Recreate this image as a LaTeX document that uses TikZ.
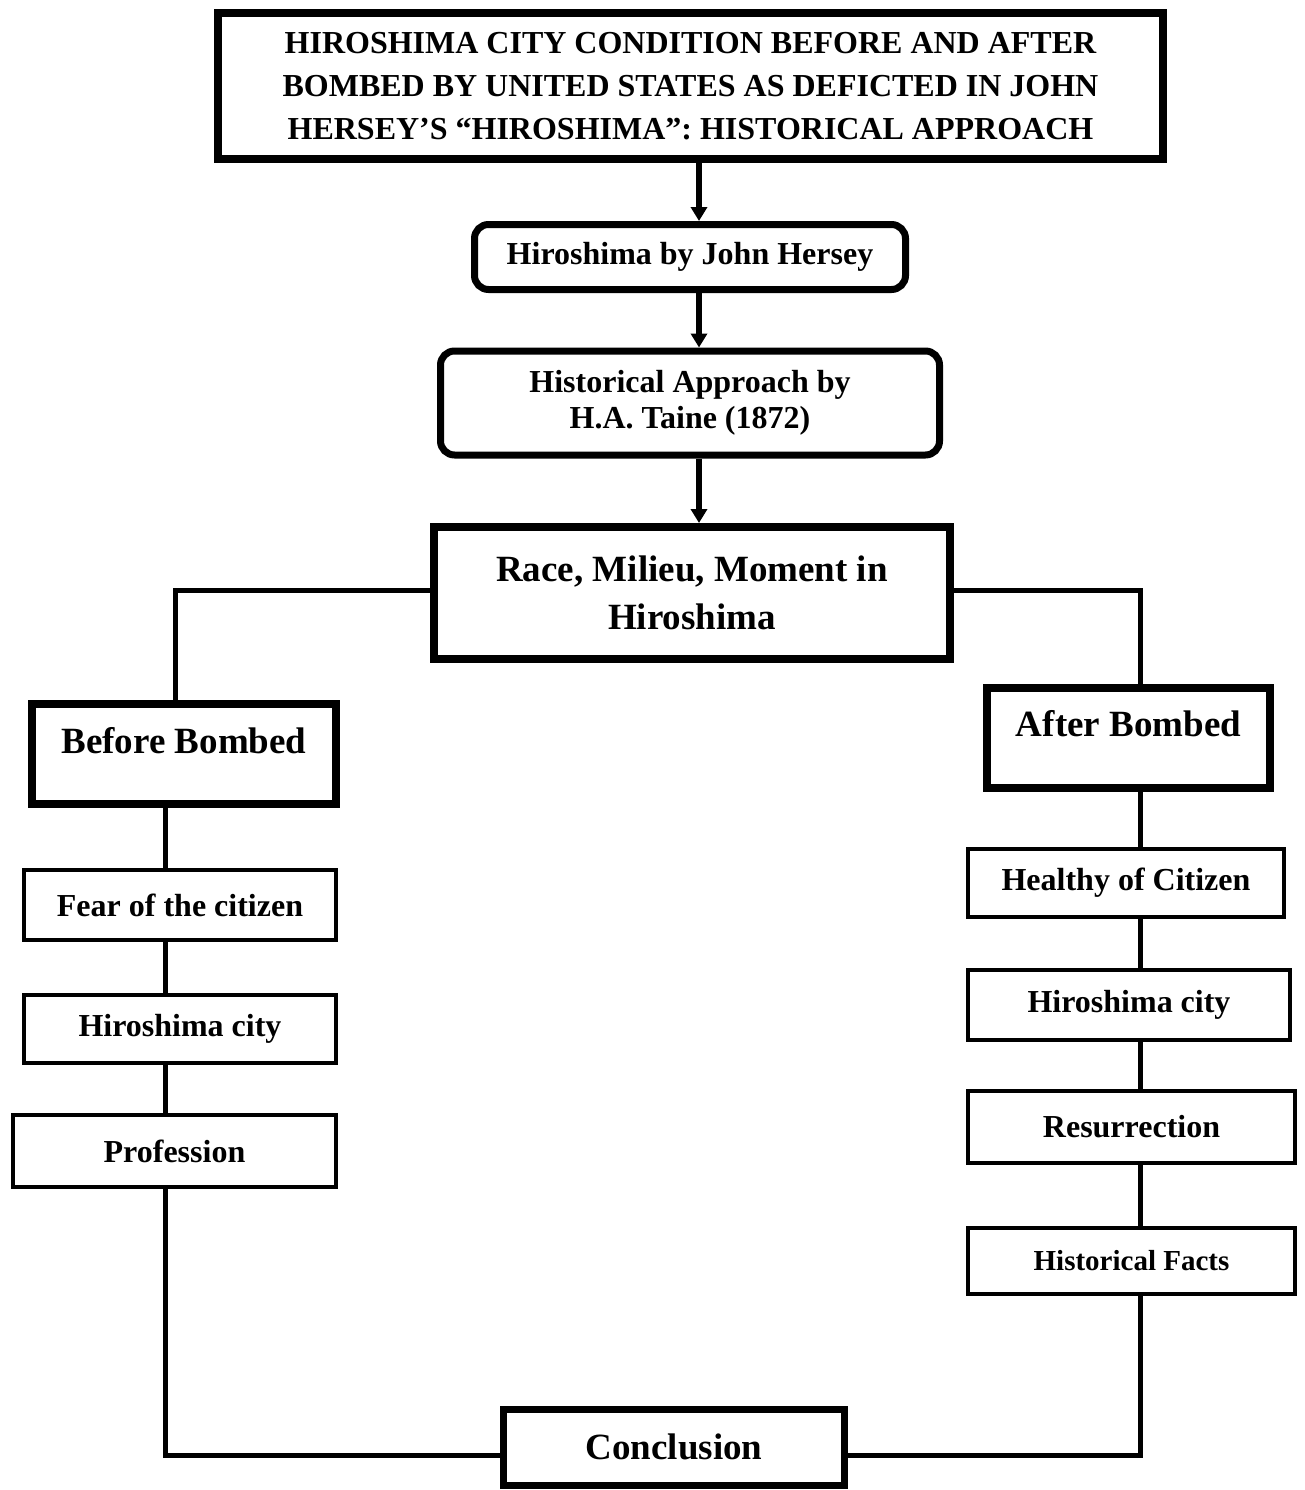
\documentclass[tikz,border=0pt]{standalone}
\usepackage{fontspec}
\setmainfont{Liberation Serif}
\usetikzlibrary{arrows.meta,calc}
\begin{document}
\begin{tikzpicture}[x=1pt,y=-1pt,
  fnt/.style={font=\bfseries\fontsize{#1}{#1}\selectfont},
  base/.style={draw=black,align=center,inner sep=0pt,text=black},
  thickbox/.style={base,line width=8pt},
  roundbox/.style={base,line width=7pt,rounded corners=14pt},
  smallbox/.style={base,line width=4pt},
  conn/.style={line width=5pt},
  arr/.style={line width=6pt,-{Triangle[width=16pt,length=14pt]}}
]
\useasboundingbox (0,0) rectangle (1304,1490);
\fill[white] (0,0) rectangle (1304,1490);

% top chain
\node[thickbox,minimum width=945pt,minimum height=146pt,
      font=\bfseries\fontsize{32}{43}\selectfont] (title) at (690.5,86)
  {HIROSHIMA CITY CONDITION BEFORE AND AFTER\\BOMBED BY UNITED STATES AS DEFICTED IN JOHN\\HERSEY'S \textquotedblleft HIROSHIMA\textquotedblright: HISTORICAL APPROACH};
\node[roundbox,minimum width=431pt,minimum height=65pt,fnt=32] (hjh) at (690,257)
  {Hiroshima by John Hersey};
\node[roundbox,minimum width=499pt,minimum height=104pt,
      font=\bfseries\fontsize{32}{36}\selectfont] (taine) at (690,403)
  {Historical Approach by\\H.A. Taine (1872)};
\node[thickbox,minimum width=516pt,minimum height=132pt,
      font=\bfseries\fontsize{37}{48}\selectfont] (rmm) at (692,593)
  {Race, Milieu, Moment in\\Hiroshima};

\draw[arr] (title.south -| 699,0) -- (hjh.north -| 699,0);
\draw[arr] (hjh.south -| 699,0) -- (taine.north -| 699,0);
\draw[arr] (taine.south -| 699,0) -- (rmm.north -| 699,0);

% left column
\coordinate (lx) at (165,0);
\coordinate (rx) at (1140,0);
\coordinate (by) at (0,1455);
\node[thickbox,minimum width=304pt,fnt=37,text height=49pt,text depth=51pt] (before) at (184,754)
  {Before Bombed};
\node[smallbox,minimum width=312pt,minimum height=70pt,fnt=32] (fear) at (180,905)
  {Fear of the citizen};
\node[smallbox,minimum width=312pt,minimum height=68pt,fnt=32] (hcl) at (180,1029)
  {Hiroshima city};
\node[smallbox,minimum width=323pt,minimum height=72pt,fnt=32] (prof) at (174.5,1151)
  {Profession};

% right column
\node[thickbox,minimum width=283pt,fnt=37,text height=48pt,text depth=52pt] (after) at (1128.5,738)
  {After Bombed};
\node[smallbox,minimum width=316pt,minimum height=68pt,fnt=32] (heal) at (1126,883)
  {Healthy of Citizen};
\node[smallbox,minimum width=322pt,minimum height=70pt,fnt=32] (hcr) at (1129,1005)
  {Hiroshima city};
\node[smallbox,minimum width=327pt,minimum height=72pt,fnt=32] (res) at (1131.5,1127)
  {Resurrection};
\node[smallbox,minimum width=327pt,minimum height=66pt,fnt=29] (hf) at (1131.5,1261)
  {Historical Facts};

% conclusion
\node[base,line width=7pt,minimum width=341pt,minimum height=76pt,fnt=37] (concl) at (674,1447)
  {Conclusion};

% connectors
\draw[conn] ([yshift=3pt]rmm.west) -| (before.north -| 175,0);
\draw[conn] ([yshift=3pt]rmm.east) -| (after.north -| rx);
\draw[conn] (before.south -| lx) -- (fear.north -| lx);
\draw[conn] (fear.south -| lx) -- (hcl.north -| lx);
\draw[conn] (hcl.south -| lx) -- (prof.north -| lx);
\draw[conn] (prof.south -| lx) |- (concl.west |- by);
\draw[conn] (after.south -| rx) -- (heal.north -| rx);
\draw[conn] (heal.south -| rx) -- (hcr.north -| rx);
\draw[conn] (hcr.south -| rx) -- (res.north -| rx);
\draw[conn] (res.south -| rx) -- (hf.north -| rx);
\draw[conn] (hf.south -| rx) |- (concl.east |- by);
\end{tikzpicture}
\end{document}
